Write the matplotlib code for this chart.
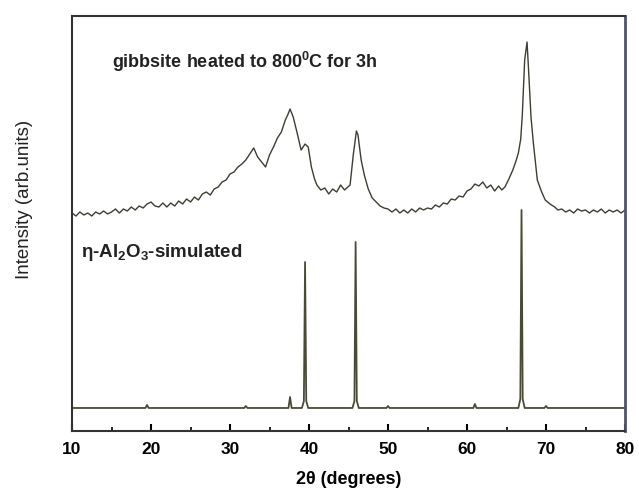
import matplotlib

matplotlib.use("Agg")
import matplotlib.pyplot as plt  # noqa: E402
from matplotlib.ticker import MultipleLocator  # noqa: E402

plt.rcParams["font.family"] = ["Liberation Sans", "DejaVu Sans"]
plt.rcParams["mathtext.fontset"] = "custom"
plt.rcParams["mathtext.rm"] = "Liberation Sans:bold"
plt.rcParams["mathtext.it"] = "Liberation Sans:bold"
plt.rcParams["mathtext.bf"] = "Liberation Sans:bold"

# experimental pattern (gibbsite heated to 800C, 3h)
exp_theta = [10.0, 10.5, 11.0, 11.5, 12.0, 12.5, 13.0, 13.5, 14.0, 14.5,
             15.0, 15.5, 16.0, 16.5, 17.0, 17.5, 18.0, 18.5, 19.0, 19.5,
             20.0, 20.5, 21.0, 21.5, 22.0, 22.5, 23.0, 23.5, 24.0, 24.5,
             25.0, 25.5, 26.0, 26.5, 27.0, 27.5, 28.0, 28.5, 29.0, 29.5,
             30.0, 30.5, 31.0, 31.5, 32.0, 32.5, 33.0, 33.5, 34.0, 34.5,
             35.0, 35.5, 36.0, 36.5, 37.0, 37.3, 37.6, 38.0, 38.5, 39.0,
             39.5, 39.9, 40.3, 40.7, 41.0, 41.5, 42.0, 42.5, 43.0, 43.5,
             44.0, 44.5, 45.2, 45.6, 46.0, 46.2, 46.6, 47.0, 47.5, 48.0,
             48.5, 49.0, 49.5, 50.0, 50.5, 51.0, 51.5, 52.0, 52.5, 53.0,
             53.5, 54.0, 54.5, 55.0, 55.5, 56.0, 56.5, 57.0, 57.5, 58.0,
             58.5, 59.0, 59.5, 60.0, 60.5, 61.0, 61.5, 62.0, 62.5, 63.0,
             63.5, 64.0, 64.4, 64.8, 65.3, 65.8, 66.2, 66.5, 66.8, 67.0,
             67.3, 67.6, 67.8, 68.1, 68.4, 68.9, 69.4, 69.9, 70.5, 71.1,
             71.5, 72.0, 72.5, 73.0, 73.5, 74.0, 74.5, 75.0, 75.5, 76.0,
             76.5, 77.0, 77.5, 78.0, 78.5, 79.0, 79.5, 80.0]
exp_int = [218, 215, 219, 216, 218, 215, 219, 217, 220, 217,
           219, 222, 218, 222, 220, 224, 221, 225, 223, 227,
           229, 225, 224, 228, 224, 228, 225, 230, 227, 232,
           229, 234, 231, 237, 239, 236, 242, 244, 249, 251,
           257, 259, 264, 267, 271, 277, 283, 274, 269, 264,
           276, 284, 293, 299, 311, 316, 322, 314, 298, 281,
           287, 284, 264, 252, 246, 241, 243, 237, 242, 239,
           246, 241, 246, 276, 300, 296, 271, 256, 242, 233,
           229, 225, 223, 222, 219, 222, 218, 221, 218, 222,
           219, 223, 221, 223, 222, 226, 224, 228, 227, 232,
           231, 235, 234, 240, 242, 247, 245, 249, 243, 246,
           240, 245, 241, 244, 252, 261, 270, 278, 292, 316,
           371, 389, 360, 314, 288, 251, 240, 231, 227, 224,
           221, 222, 219, 221, 218, 222, 220, 221, 218, 221,
           219, 222, 218, 221, 219, 221, 218, 221]

# simulated eta-Al2O3 pattern
sim_theta = [10.0, 19.3, 19.5, 19.7, 31.8, 32.0, 32.2, 37.4, 37.6, 37.8,
             39.1, 39.35, 39.5, 39.65, 39.9, 45.5, 45.75, 45.9, 46.05, 46.3,
             49.8, 50.0, 50.2, 60.8, 61.0, 61.2, 66.5, 66.75, 66.9, 67.05,
             67.3, 69.8, 70.0, 70.2, 80.0]
sim_int = [23, 23, 26, 23, 23, 25, 23, 23, 34, 23,
           23, 30, 169, 30, 23, 23, 30, 189, 30, 23,
           23, 25, 23, 23, 27, 23, 23, 32, 221, 32,
           23, 23, 25, 23, 23]

fig = plt.figure(figsize=(6.39, 4.93), dpi=100)
ax = fig.add_axes([0.1127, 0.1258, 0.8654, 0.8417])

ax.plot(exp_theta, exp_int, color="#3d3d30", linewidth=1.0)
ax.plot(sim_theta, sim_int, color="#4a4a35", linewidth=1.3)

ax.set_xlim(10, 80)
ax.set_ylim(0, 415)
ax.xaxis.set_major_locator(MultipleLocator(10))
ax.xaxis.set_minor_locator(MultipleLocator(5))
ax.set_yticks([])
ax.tick_params(axis="x", which="major", direction="in", length=5, width=1.5,
               labelsize=12.5, pad=8)
ax.tick_params(axis="x", which="minor", direction="in", length=3, width=1.2)
for lab in ax.get_xticklabels():
    lab.set_fontweight("bold")
for side in ["left", "bottom", "top"]:
    ax.spines[side].set_color("#333333")
    ax.spines[side].set_linewidth(1.5)
ax.spines["right"].set_color("#50546a")
ax.spines["right"].set_linewidth(2)

ax.text(15.0, 369, "gibbsite heated to 800$^{0}$C for 3h", fontsize=13,
        fontweight="bold", va="center", ha="left", color="#222222")
ax.text(11.2, 178, "η-Al$_{2}$O$_{3}$-simulated", fontsize=13.5,
        fontweight="bold", va="center", ha="left", color="#222222")

ax.set_xlabel("2θ (degrees)", fontsize=13, fontweight="bold", labelpad=10)
fig.text(0.038, 0.596, "Intensity (arb.units)", rotation=90, fontsize=13.5,
         va="center", ha="center", color="#222222")

fig.savefig("out.png", dpi=100, facecolor="white")
